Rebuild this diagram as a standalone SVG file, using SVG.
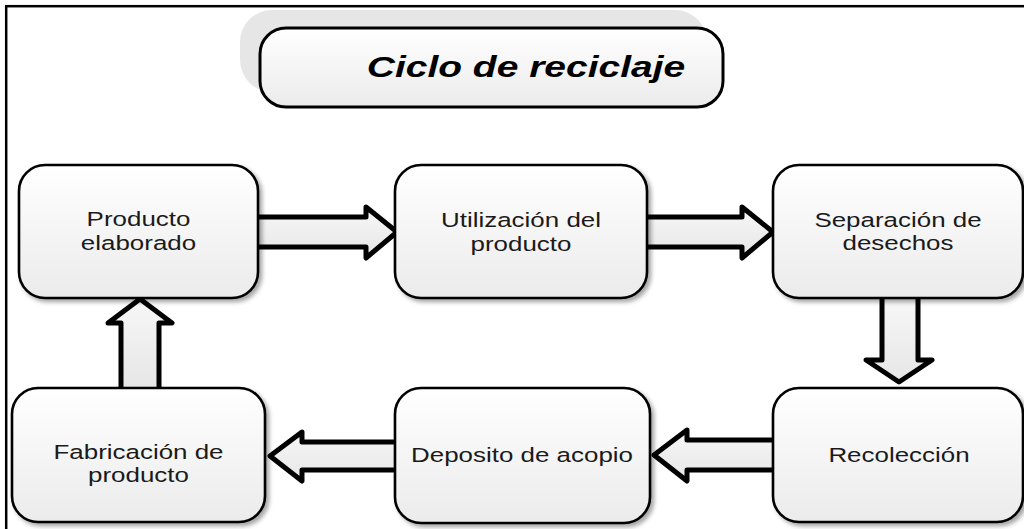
<svg xmlns="http://www.w3.org/2000/svg" width="1024" height="529" viewBox="0 0 1024 529">
<style>
.box{fill:url(#g);stroke:#000;stroke-width:2.6;filter:url(#sh)}
.t{font-family:"Liberation Sans",Arial,sans-serif;font-size:19.5px;fill:#1a1a1a;text-anchor:middle}
.af{fill:url(#ag);stroke:none}
.ao{fill:none;stroke:#000;stroke-width:5;stroke-linejoin:round;stroke-linecap:round}
</style>
<defs>
<linearGradient id="g" x1="0" y1="0" x2="0" y2="1">
<stop offset="0" stop-color="#ffffff"/><stop offset="1" stop-color="#ebebeb"/>
</linearGradient>
<linearGradient id="ag" x1="0" y1="0" x2="0" y2="1">
<stop offset="0" stop-color="#f7f7f7"/><stop offset="1" stop-color="#e6e6e6"/>
</linearGradient>
<filter id="sh" x="-10%" y="-10%" width="125%" height="125%">
<feDropShadow dx="3" dy="3" stdDeviation="2" flood-color="#000" flood-opacity="0.35"/>
</filter>
</defs>
<rect x="0" y="0" width="1024" height="529" fill="#fff"/>
<rect x="6.2" y="6.2" width="1030" height="540" fill="none" stroke="#000" stroke-width="2.5"/>

<g id="title">
<rect x="240" y="10" width="467" height="82" rx="32" fill="#e6e6e6"/>
<rect x="260" y="28" width="463" height="79" rx="26" fill="url(#g)" stroke="#000" stroke-width="3"/>
<text transform="translate(526 77) scale(1.3 1)" font-family="'Liberation Sans',Arial,sans-serif" font-size="30" font-weight="bold" font-style="italic" text-anchor="middle" fill="#000">Ciclo de reciclaje</text>
</g>

<g id="connectors">
<path class="af" d="M258,217 L366,217 L366,207 L397,232 L366,258 L366,247 L258,247 Z"/>
<path class="ao" d="M258,217 L366,217 L366,207 L397,232 L366,258 L366,247 L258,247"/>
<path class="af" d="M647,217 L742,217 L742,207 L773,232 L742,258 L742,247 L647,247 Z"/>
<path class="ao" d="M647,217 L742,217 L742,207 L773,232 L742,258 L742,247 L647,247"/>
<path class="af" d="M882,298 L882,360 L866,360 L899,382 L932,360 L918,360 L918,298 Z"/>
<path class="ao" d="M882,298 L882,360 L866,360 L899,382 L932,360 L918,360 L918,298"/>
<path class="af" d="M773,440 L687,440 L687,430 L654,455 L687,481 L687,470 L773,470 Z"/>
<path class="ao" d="M773,440 L687,440 L687,430 L654,455 L687,481 L687,470 L773,470"/>
<path class="af" d="M395,442 L302,442 L302,432 L270,456 L302,481 L302,470 L395,470 Z"/>
<path class="ao" d="M395,442 L302,442 L302,432 L270,456 L302,481 L302,470 L395,470"/>
<path class="af" d="M121,388 L121,323 L108,323 L140,299 L172,323 L159,323 L159,388 Z"/>
<path class="ao" d="M121,388 L121,323 L108,323 L140,299 L172,323 L159,323 L159,388"/>
</g>

<g id="n1">
<rect class="box" x="19" y="165" width="239" height="133" rx="26"/>
<text class="t" transform="translate(138.5 226) scale(1.33 1)">Producto</text>
<text class="t" transform="translate(138.5 250) scale(1.33 1)">elaborado</text>
</g>
<g id="n2">
<rect class="box" x="395" y="165" width="252" height="133" rx="26"/>
<text class="t" transform="translate(521 227) scale(1.33 1)">Utilización del</text>
<text class="t" transform="translate(521 251) scale(1.33 1)">producto</text>
</g>
<g id="n3">
<rect class="box" x="773" y="165" width="250" height="133" rx="26"/>
<text class="t" transform="translate(898 227) scale(1.33 1)">Separación de</text>
<text class="t" transform="translate(898 250) scale(1.33 1)">desechos</text>
</g>
<g id="n4">
<rect class="box" x="773" y="388" width="250" height="134" rx="26"/>
<text class="t" transform="translate(899 462) scale(1.33 1)">Recolección</text>
</g>
<g id="n5">
<rect class="box" x="395" y="388" width="255" height="135" rx="26"/>
<text class="t" transform="translate(522 462) scale(1.33 1)">Deposito de acopio</text>
</g>
<g id="n6">
<rect class="box" x="12" y="388" width="253" height="134" rx="26"/>
<text class="t" transform="translate(138.5 459) scale(1.33 1)">Fabricación de</text>
<text class="t" transform="translate(138.5 482) scale(1.33 1)">producto</text>
</g>
</svg>
